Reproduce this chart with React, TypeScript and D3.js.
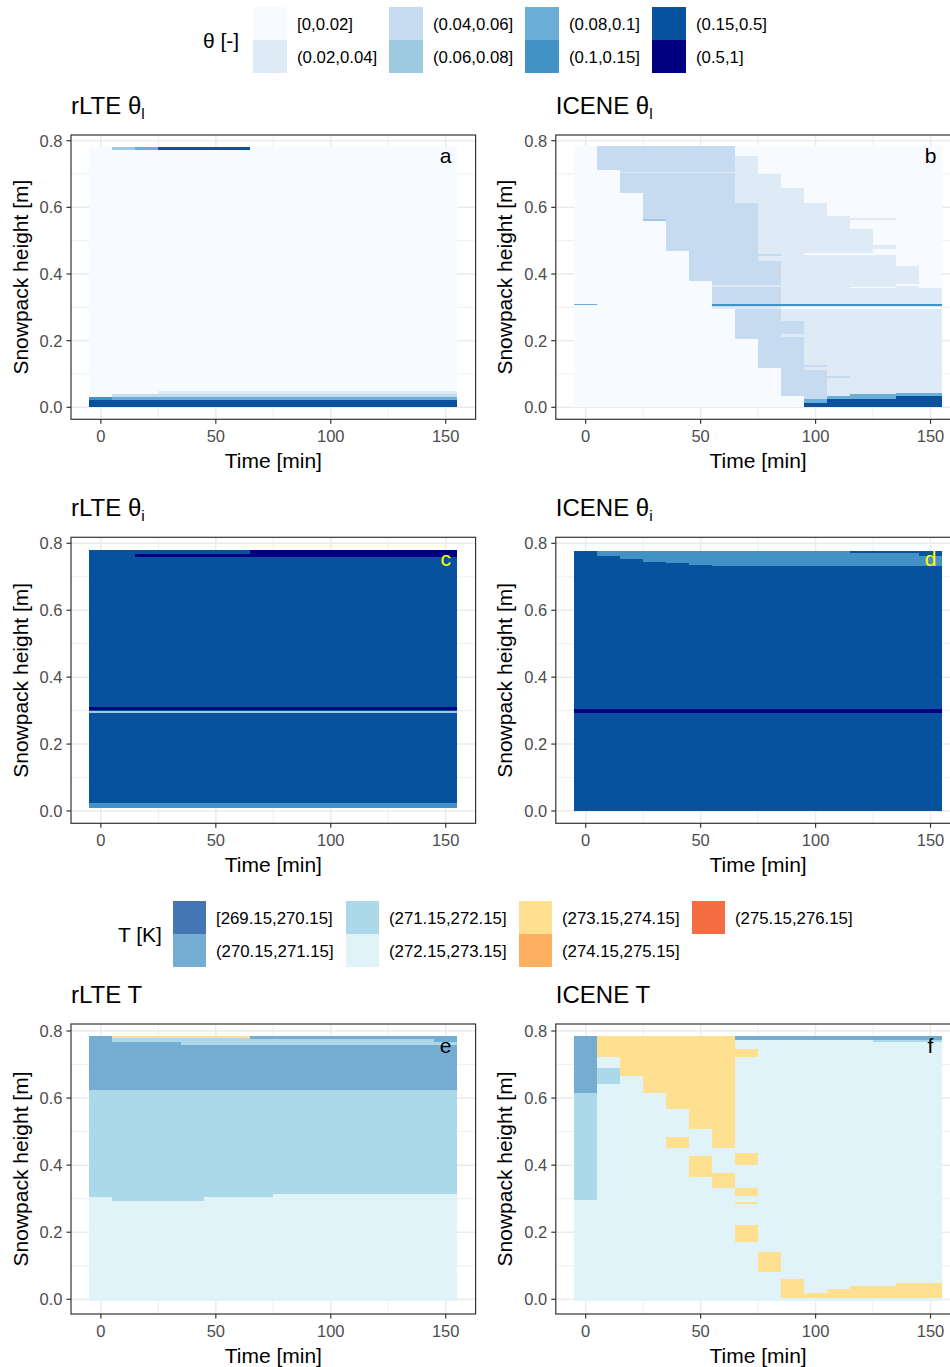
import React from "react";
import * as d3 from "d3";

// ---------- legend data ----------
const THETA_LABELS = ["[0,0.02]", "(0.02,0.04]", "(0.04,0.06]", "(0.06,0.08]", "(0.08,0.1]", "(0.1,0.15]", "(0.15,0.5]", "(0.5,1]"];
const THETA_COLORS = ["#f7fbff", "#deebf7", "#c6dbef", "#9ecae1", "#6baed6", "#4292c6", "#08519c", "#000080"];
const T_LABELS = ["[269.15,270.15]", "(270.15,271.15]", "(271.15,272.15]", "(272.15,273.15]", "(273.15,274.15]", "(274.15,275.15]", "(275.15,276.15]"];
const T_COLORS = ["#4575b4", "#74add1", "#abd9e9", "#e0f3f8", "#fee090", "#fdae61", "#f46d43"];

const X_TICKS = [0, 50, 100, 150];
const X_MINOR = [25, 75, 125];
const Y_TICKS = [0, 0.2, 0.4, 0.6, 0.8];
const Y_MINOR = [0.1, 0.3, 0.5, 0.7];
const TIME_STEP = 10;

// tiles: [timeFrom, timeTo, heightLow, heightHigh, classIndex]
const RLTE_THETA_L = [
  [0, 150, 0, 0.782, 0],
  [10, 10, 0.772, 0.782, 3],
  [20, 20, 0.772, 0.782, 4],
  [30, 60, 0.772, 0.782, 6],
  [30, 150, 0.04, 0.05, 1],
  [10, 150, 0.032, 0.04, 2],
  [10, 150, 0.022, 0.032, 4],
  [0, 0, 0.022, 0.032, 5],
  [0, 150, 0, 0.022, 6],
];

const ICENE_THETA_L = [
  [0, 150, 0, 0.785, 0],
  [0, 0, 0.306, 0.31, 4],
  [10, 10, 0.712, 0.785, 2],
  [20, 20, 0.643, 0.785, 2],
  [30, 30, 0.566, 0.785, 2],
  [30, 30, 0.56, 0.566, 3],
  [40, 40, 0.47, 0.785, 2],
  [50, 50, 0.38, 0.785, 2],
  [60, 60, 0.294, 0.785, 2],
  [20, 60, 0.702, 0.707, 1],
  [70, 70, 0.614, 0.755, 1],
  [70, 70, 0.204, 0.614, 2],
  [80, 80, 0.44, 0.7, 1],
  [80, 80, 0.455, 0.461, 2],
  [80, 80, 0.118, 0.44, 2],
  [90, 90, 0.26, 0.658, 1],
  [90, 90, 0.033, 0.26, 2],
  [90, 90, 0.212, 0.221, 1],
  [100, 100, 0.113, 0.614, 1],
  [100, 100, 0.121, 0.128, 2],
  [100, 100, 0.025, 0.113, 2],
  [110, 110, 0.033, 0.574, 1],
  [110, 110, 0.087, 0.093, 2],
  [120, 120, 0.041, 0.534, 1],
  [130, 130, 0.041, 0.463, 1],
  [130, 130, 0.475, 0.488, 1],
  [120, 130, 0.562, 0.567, 1],
  [100, 130, 0.458, 0.463, 0],
  [140, 140, 0.043, 0.424, 1],
  [150, 150, 0.043, 0.359, 1],
  [60, 80, 0.361, 0.366, 1],
  [120, 130, 0.357, 0.362, 0],
  [140, 140, 0.364, 0.369, 0],
  [60, 80, 0.294, 0.302, 1],
  [90, 150, 0.294, 0.302, 0],
  [60, 150, 0.305, 0.311, 5],
  [100, 100, 0.013, 0.025, 4],
  [110, 110, 0.025, 0.033, 4],
  [120, 130, 0.025, 0.041, 4],
  [140, 150, 0.033, 0.043, 4],
  [100, 100, 0, 0.013, 6],
  [110, 130, 0, 0.025, 6],
  [140, 150, 0, 0.033, 6],
];

const RLTE_THETA_I = [
  [0, 150, 0.01, 0.78, 6],
  [20, 60, 0.76, 0.768, 7],
  [70, 150, 0.76, 0.78, 7],
  [0, 150, 0.302, 0.312, 7],
  [0, 150, 0.293, 0.3, 3],
  [0, 150, 0.01, 0.023, 5],
];

const ICENE_THETA_I = [
  [0, 150, 0, 0.778, 6],
  [10, 10, 0.762, 0.778, 5],
  [20, 20, 0.753, 0.778, 5],
  [30, 30, 0.745, 0.778, 5],
  [40, 40, 0.74, 0.778, 5],
  [50, 50, 0.735, 0.778, 5],
  [60, 150, 0.732, 0.778, 5],
  [120, 150, 0.77, 0.778, 6],
  [150, 150, 0.762, 0.778, 6],
  [0, 150, 0.292, 0.305, 7],
];

const RLTE_T = [
  [0, 150, -0.006, 0.785, 3],
  [0, 0, 0.304, 0.624, 2],
  [10, 40, 0.293, 0.624, 2],
  [50, 70, 0.304, 0.624, 2],
  [80, 150, 0.315, 0.624, 2],
  [0, 150, 0.624, 0.785, 1],
  [10, 60, 0.778, 0.785, 4],
  [10, 30, 0.767, 0.778, 2],
  [40, 60, 0.757, 0.778, 2],
  [70, 140, 0.757, 0.776, 2],
  [150, 150, 0.757, 0.767, 2],
];

const ICENE_T = [
  [0, 150, -0.006, 0.785, 3],
  [0, 0, 0.616, 0.785, 1],
  [0, 0, 0.296, 0.616, 2],
  [10, 10, 0.721, 0.785, 4],
  [10, 10, 0.642, 0.69, 2],
  [20, 20, 0.665, 0.785, 4],
  [30, 30, 0.616, 0.785, 4],
  [40, 40, 0.566, 0.785, 4],
  [40, 40, 0.452, 0.485, 4],
  [50, 50, 0.507, 0.785, 4],
  [50, 50, 0.364, 0.427, 4],
  [60, 60, 0.452, 0.785, 4],
  [60, 60, 0.333, 0.376, 4],
  [70, 150, 0.774, 0.785, 1],
  [130, 150, 0.766, 0.774, 2],
  [70, 70, 0.721, 0.745, 4],
  [70, 70, 0.4, 0.435, 4],
  [70, 70, 0.309, 0.333, 4],
  [70, 70, 0.283, 0.291, 4],
  [70, 70, 0.172, 0.221, 4],
  [80, 80, 0.082, 0.142, 4],
  [90, 90, 0.003, 0.06, 4],
  [100, 100, 0.003, 0.02, 4],
  [110, 110, 0.003, 0.03, 4],
  [120, 130, 0.003, 0.04, 4],
  [140, 150, 0.003, 0.05, 4],
];

// ---------- layout ----------
const FONT = "'Liberation Sans', Arial, Helvetica, sans-serif";
const COLS = [
  { left: 71, right: 475.6, yTitleX: 27.5 },
  { left: 555.8, right: 960.4, yTitleX: 512.3 },
];
const ROWS = [
  { y0: 407.3, y08: 140.7, top: 135, bottom: 419.3 },
  { y0: 811, y08: 543.3, top: 537.3, bottom: 823.3 },
  { y0: 1299.3, y08: 1031, top: 1024, bottom: 1314 },
];

const PANELS = [
  { row: 0, col: 0, title: "rLTE θ", sub: "l", label: "a", labelColor: "#000", tiles: RLTE_THETA_L, colors: THETA_COLORS },
  { row: 0, col: 1, title: "ICENE θ", sub: "l", label: "b", labelColor: "#000", tiles: ICENE_THETA_L, colors: THETA_COLORS },
  { row: 1, col: 0, title: "rLTE θ", sub: "i", label: "c", labelColor: "#ffff00", tiles: RLTE_THETA_I, colors: THETA_COLORS },
  { row: 1, col: 1, title: "ICENE θ", sub: "i", label: "d", labelColor: "#ffff00", tiles: ICENE_THETA_I, colors: THETA_COLORS },
  { row: 2, col: 0, title: "rLTE T", sub: "", label: "e", labelColor: "#000", tiles: RLTE_T, colors: T_COLORS },
  { row: 2, col: 1, title: "ICENE T", sub: "", label: "f", labelColor: "#000", tiles: ICENE_T, colors: T_COLORS },
];

function Panel({ p }: { p: any }) {
  const c = COLS[p.col];
  const r = ROWS[p.row];
  const x = d3.scaleLinear().domain([-13, 163]).range([c.left, c.right]);
  const y = d3.scaleLinear().domain([0, 0.8]).range([r.y0, r.y08]);
  const fmt = d3.format(".1f");
  const half = TIME_STEP / 2;
  return (
    <g>
      {/* grid */}
      {X_MINOR.map((v) => (
        <line key={"xm" + v} x1={x(v)} x2={x(v)} y1={r.top} y2={r.bottom} stroke="#ebebeb" strokeWidth={0.8} />
      ))}
      {Y_MINOR.map((v) => (
        <line key={"ym" + v} x1={c.left} x2={c.right} y1={y(v)} y2={y(v)} stroke="#ebebeb" strokeWidth={0.8} />
      ))}
      {X_TICKS.map((v) => (
        <line key={"xg" + v} x1={x(v)} x2={x(v)} y1={r.top} y2={r.bottom} stroke="#ebebeb" strokeWidth={1.5} />
      ))}
      {Y_TICKS.map((v) => (
        <line key={"yg" + v} x1={c.left} x2={c.right} y1={y(v)} y2={y(v)} stroke="#ebebeb" strokeWidth={1.5} />
      ))}
      {/* tiles */}
      <g shapeRendering="crispEdges">
        {p.tiles.map((t: number[], i: number) => {
          const x0 = x(t[0] - half);
          const x1 = x(t[1] + half);
          const yTop = y(t[3]);
          const yBot = y(t[2]);
          return <rect key={i} x={x0} y={yTop} width={x1 - x0} height={Math.max(1, yBot - yTop)} fill={p.colors[t[4]]} />;
        })}
      </g>
      {/* label */}
      <text x={x(150)} y={y(0.75) + 5.5} textAnchor="middle" fontSize={21} fill={p.labelColor} fontFamily={FONT}>
        {p.label}
      </text>
      {/* border */}
      <rect x={c.left} y={r.top} width={c.right - c.left} height={r.bottom - r.top} fill="none" stroke="#333333" strokeWidth={1.2} />
      {/* x axis */}
      {X_TICKS.map((v) => (
        <g key={"xt" + v}>
          <line x1={x(v)} x2={x(v)} y1={r.bottom} y2={r.bottom + 4.5} stroke="#333333" strokeWidth={1.2} />
          <text x={x(v)} y={r.bottom + 23} textAnchor="middle" fontSize={16.5} fill="#4d4d4d" fontFamily={FONT}>
            {v}
          </text>
        </g>
      ))}
      {/* y axis */}
      {Y_TICKS.map((v) => (
        <g key={"yt" + v}>
          <line x1={c.left - 4.5} x2={c.left} y1={y(v)} y2={y(v)} stroke="#333333" strokeWidth={1.2} />
          <text x={c.left - 8.5} y={y(v) + 6} textAnchor="end" fontSize={16.5} fill="#4d4d4d" fontFamily={FONT}>
            {fmt(v)}
          </text>
        </g>
      ))}
      <text x={(c.left + c.right) / 2} y={r.bottom + 48.5} textAnchor="middle" fontSize={21} fill="#000" fontFamily={FONT}>
        Time [min]
      </text>
      <text
        transform={`translate(${c.yTitleX},${(r.top + r.bottom) / 2}) rotate(-90)`}
        textAnchor="middle"
        fontSize={21}
        fill="#000"
        fontFamily={FONT}
      >
        Snowpack height [m]
      </text>
      {/* title */}
      <text x={c.left} y={r.top - 21} fontSize={24} fill="#000" fontFamily={FONT}>
        {p.title}
        {p.sub ? (
          <tspan fontSize={15.5} dy={5}>
            {p.sub}
          </tspan>
        ) : null}
      </text>
    </g>
  );
}

function Legend({ title, titleX, titleY, labels, colors, colX, top, keyW, keyH }: any) {
  return (
    <g fontFamily={FONT}>
      <text x={titleX} y={titleY} fontSize={21} fill="#000">
        {title}
      </text>
      {labels.map((lab: string, i: number) => {
        const col = Math.floor(i / 2);
        const row = i % 2;
        const kx = colX[col];
        const ky = top + row * keyH;
        return (
          <g key={lab}>
            <rect x={kx} y={ky} width={keyW} height={keyH} fill={colors[i]} />
            <text x={kx + keyW + 10} y={ky + keyH / 2 + 6} fontSize={16.8} fill="#000">
              {lab}
            </text>
          </g>
        );
      })}
    </g>
  );
}

export default function App() {
  return (
    <svg
      width={950}
      height={1367}
      style={{ position: "absolute", left: 0, top: 0, background: "#fff" }}
      xmlns="http://www.w3.org/2000/svg"
    >
      <rect x={0} y={0} width={950} height={1367} fill="#fff" />
      <Legend
        title="θ [-]"
        titleX={203}
        titleY={47.5}
        labels={THETA_LABELS}
        colors={THETA_COLORS}
        colX={[253, 389, 525, 652]}
        top={7}
        keyW={34}
        keyH={33}
      />
      <Legend
        title="T [K]"
        titleX={118}
        titleY={941.5}
        labels={T_LABELS}
        colors={T_COLORS}
        colX={[173, 346, 519, 692]}
        top={901}
        keyW={33}
        keyH={33}
      />
      {PANELS.map((p, i) => (
        <Panel key={i} p={p} />
      ))}
    </svg>
  );
}
